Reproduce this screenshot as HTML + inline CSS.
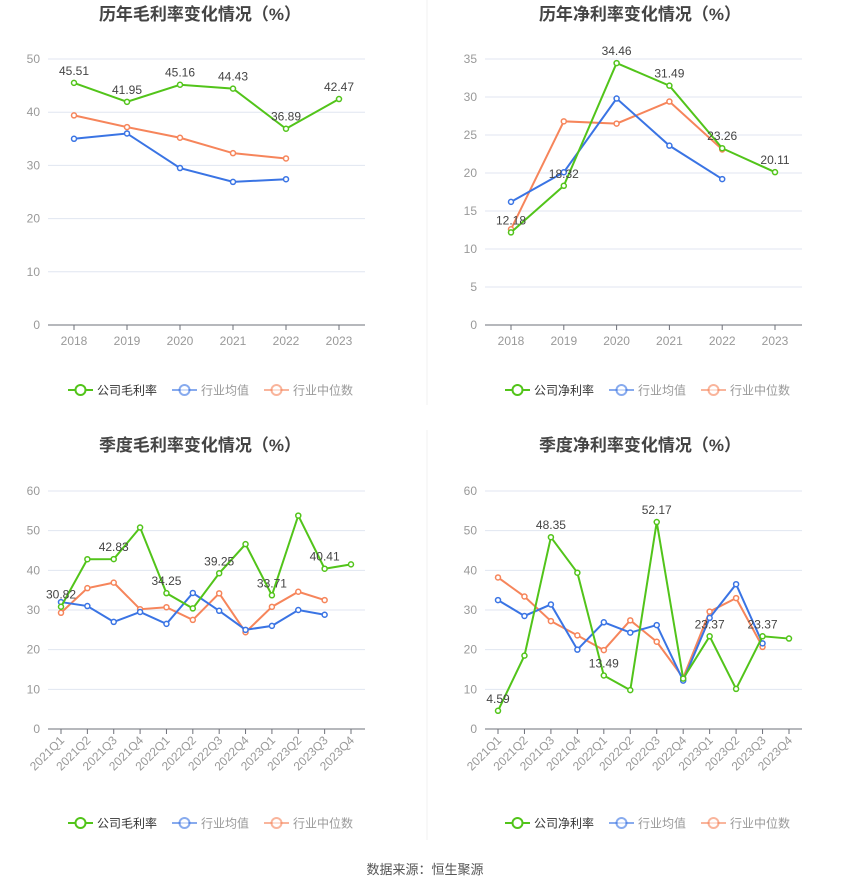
<!DOCTYPE html>
<html><head><meta charset="utf-8"><style>
body{margin:0;background:#fff;font-family:"Liberation Sans","Noto Sans CJK SC",sans-serif}
svg{display:block}
</style></head><body>
<svg id="s" width="850" height="890" xmlns="http://www.w3.org/2000/svg" font-family="Liberation Sans, Noto Sans CJK SC, sans-serif">
<line x1="427" y1="0" x2="427" y2="405" stroke="#f0f0f0"/>
<line x1="427" y1="430" x2="427" y2="840" stroke="#f0f0f0"/>
<text x="425" y="874" text-anchor="middle" font-size="13" fill="#555">数据来源：恒生聚源</text>
</svg>
<script>
const years=["2018","2019","2020","2021","2022","2023"];
const quarters=["2021Q1","2021Q2","2021Q3","2021Q4","2022Q1","2022Q2","2022Q3","2022Q4","2023Q1","2023Q2","2023Q3","2023Q4"];
const yGrossCo=[45.51,41.95,45.16,44.43,36.89,42.47];
const yGrossAvg=[35.0,36.0,29.5,26.9,27.4];
const yGrossMed=[39.4,37.2,35.2,32.3,31.3];
const yNetCo=[12.18,18.32,34.46,31.49,23.26,20.11];
const yNetAvg=[16.2,20.1,29.8,23.6,19.2];
const yNetMed=[12.6,26.8,26.5,29.4,23.1];
const qGrossCo=[30.82,42.8,42.83,50.8,34.25,30.4,39.25,46.6,33.71,53.8,40.41,41.5];
const qGrossAvg=[32.0,31.0,27.0,29.5,26.5,34.3,29.8,25.0,26.0,30.0,28.8];
const qGrossMed=[29.3,35.5,36.9,30.2,30.7,27.5,34.2,24.4,30.8,34.6,32.5];
const qNetCo=[4.59,18.5,48.35,39.4,13.49,9.8,52.17,12.7,23.37,10.1,23.37,22.8];
const qNetAvg=[32.5,28.5,31.4,20.0,26.9,24.3,26.2,12.2,28.0,36.5,21.6];
const qNetMed=[38.2,33.4,27.2,23.6,19.9,27.4,22.0,12.9,29.6,33.0,20.7];
const yTicks1=[0,10,20,30,40,50];
const yTicks2=[0,5,10,15,20,25,30,35];
const qTicks=[0,10,20,30,40,50,60];
const labelIdxYear=[0,1,2,3,4,5];
const labelIdxQ=[0,2,4,6,8,10];

const NS="http://www.w3.org/2000/svg";
const svg=document.getElementById('s');
const G="#52c41a",B="#3a74e4",O="#f6855b";
function el(t,a,p){const e=document.createElementNS(NS,t);for(const k in a)e.setAttribute(k,a[k]);(p||svg).appendChild(e);return e;}

function chart(c){
  const g=el('g',{});
  
  
  const ymax=c.ticks[c.ticks.length-1];
  const ys=v=>c.y0-(v/ymax)*(c.y0-c.ytop);
  const step=(c.xlast-c.x0)/(c.cats.length-1);
  const xs=i=>c.x0+i*step;
  const t=el('text',{x:c.cx,y:c.ty,'text-anchor':'middle','font-size':17,'font-weight':'bold',fill:'#444'},g);
  t.textContent=c.title;
  
  
  c.ticks.forEach(v=>{
    if(v>0){const l=el('line',{x1:c.ax0,x2:c.ax1,y1:ys(v),y2:ys(v),stroke:'#e0e6f1'},g);
    
    }
    const tx=el('text',{x:c.ax0-8,y:ys(v)+4,'text-anchor':'end','font-size':12,fill:'#999'},g);
    tx.textContent=v;
    
    
  });
  const ax=el('line',{x1:c.ax0,x2:c.ax1,y1:c.y0,y2:c.y0,stroke:'#6e7079'},g);
  
  
  c.cats.forEach((s,i)=>{
    el('line',{x1:xs(i),x2:xs(i),y1:c.y0,y2:c.y0+5,stroke:'#6e7079'},g);
    let tx;
    if(c.rot){const px=xs(i)+4,py=c.y0+12;tx=el('text',{x:px,y:py,'text-anchor':'end','font-size':12,fill:'#999',transform:'rotate(-45 '+px+' '+py+')'},g);}
    else tx=el('text',{x:xs(i),y:c.y0+20,'text-anchor':'middle','font-size':12,fill:'#999'},g);
    tx.textContent=s;
    
    
  });
  const series=[[c.med,O,'industry-median-line'],[c.avg,B,'industry-average-line'],[c.co,G,'company-line']];
  series.forEach(([d,col,nm])=>{
    const p=el('polyline',{points:d.map((v,i)=>xs(i)+','+ys(v)).join(' '),fill:'none',stroke:col,'stroke-width':2},g);
    
    
    d.forEach((v,i)=>{
      const ci=el('circle',{cx:xs(i),cy:ys(v),r:2.5,fill:'#fff',stroke:col,'stroke-width':1.5},g);
      
      
    });
  });
  c.lbl.forEach(i=>{
    const tx=el('text',{x:xs(i),y:ys(c.co[i])-8,'text-anchor':'middle','font-size':12,fill:'#444'},g);
    tx.textContent=c.co[i].toFixed(2);
    
    
  });
  const items=[[c.leg,G],['行业均值',B],['行业中位数',O]];
  let lx=c.lx;
  items.forEach(([s,col],k)=>{
    const lg=el('g',{},g);
    
    
    const op=k==0?1:0.6;
    el('line',{x1:lx,x2:lx+25,y1:c.ly,y2:c.ly,stroke:col,'stroke-width':2,opacity:op},lg);
    el('circle',{cx:lx+12.5,cy:c.ly,r:5,fill:'#fff',stroke:col,'stroke-width':2,opacity:op},lg);
    const tx=el('text',{x:lx+29,y:c.ly+4.5,'font-size':12,fill:k==0?'#333':'#999'},lg);
    tx.textContent=s;
    lx+=29+s.length*12+15;
  });
}
chart({name:'annual-gross-margin-chart',title:'历年毛利率变化情况（%）',cx:200,ty:20,cats:years,ticks:yTicks1,y0:325,ytop:59,x0:74,xlast:339,ax0:48,ax1:365,co:yGrossCo,avg:yGrossAvg,med:yGrossMed,lbl:labelIdxYear,leg:'公司毛利率',lx:68,ly:390});
chart({name:'annual-net-margin-chart',title:'历年净利率变化情况（%）',cx:640,ty:20,cats:years,ticks:yTicks2,y0:325,ytop:59,x0:511,xlast:775,ax0:485,ax1:802,co:yNetCo,avg:yNetAvg,med:yNetMed,lbl:labelIdxYear,leg:'公司净利率',lx:505,ly:390});
chart({name:'quarterly-gross-margin-chart',title:'季度毛利率变化情况（%）',cx:200,ty:451,cats:quarters,ticks:qTicks,rot:true,y0:729,ytop:491,x0:61,xlast:351,ax0:48,ax1:365,co:qGrossCo,avg:qGrossAvg,med:qGrossMed,lbl:labelIdxQ,leg:'公司毛利率',lx:68,ly:823});
chart({name:'quarterly-net-margin-chart',title:'季度净利率变化情况（%）',cx:640,ty:451,cats:quarters,ticks:qTicks,rot:true,y0:729,ytop:491,x0:498,xlast:789,ax0:485,ax1:802,co:qNetCo,avg:qNetAvg,med:qNetMed,lbl:[0,2,4,6,8,10],leg:'公司净利率',lx:505,ly:823});
</script>
</body></html>
